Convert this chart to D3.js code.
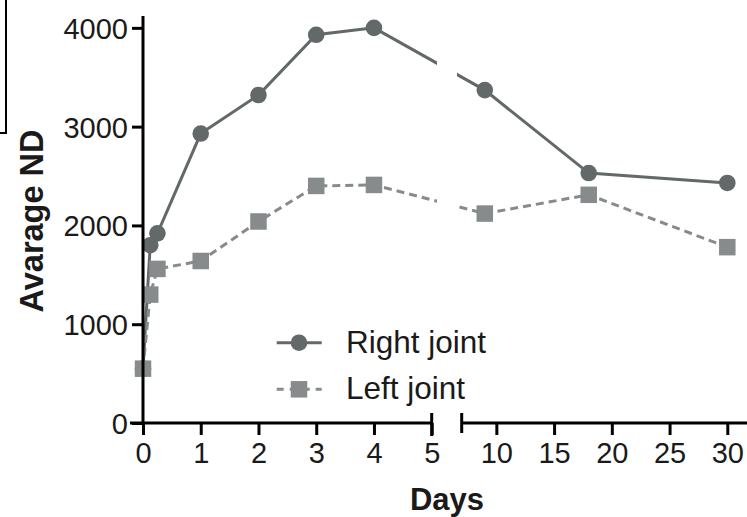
<!DOCTYPE html>
<html>
<head>
<meta charset="utf-8">
<script src="https://cdn.jsdelivr.net/npm/d3@7"></script>
<style>
  html, body { margin: 0; padding: 0; background: #fff; }
  svg { display: block; font-family: "Liberation Sans", Arial, Helvetica, sans-serif; }
</style>
</head>
<body>
<svg id="chart" width="747" height="517"></svg>
<script>
// Sampling days (early points are hours after day 0)
const days = [0, 0.125, 0.25, 1, 2, 3, 4, 9, 18, 30];
// Average ND per joint
const rightJoint = [550, 1800, 1920, 2930, 3320, 3930, 4000, 3370, 2530, 2430];
const leftJoint  = [550, 1300, 1560, 1640, 2040, 2400, 2410, 2120, 2310, 1780];
const seriesNames = ["Right joint", "Left joint"];
const yTicks = [0, 1000, 2000, 3000, 4000];
const xTicksA = [0, 1, 2, 3, 4, 5];
const xTicksB = [10, 15, 20, 25, 30];

const svg = d3.select("#chart");

// Broken x axis: two linear pieces
const xA = d3.scaleLinear().domain([0, 5]).range([143, 431.7]);
const xB = d3.scaleLinear().domain([7, 30]).range([461.7, 727.3]);
const x = d => (d <= 5 ? xA(d) : xB(d));
const y = d3.scaleLinear().domain([0, 4120]).range([423, 16]);

const darkGrey = "#636868";
const lightGrey = "#878b8b";
const textColour = "#1a1a1a";

// Corner of the neighbouring panel frame
svg.append("rect")
  .attr("x", -10).attr("y", -10).attr("width", 16).attr("height", 143)
  .attr("fill", "none").attr("stroke", "#000").attr("stroke-width", 2);

// Lines are clipped across the axis break
const defs = svg.append("defs");
const clip = defs.append("clipPath").attr("id", "gapclip");
clip.append("rect").attr("x", 0).attr("y", 0).attr("width", 437).attr("height", 517);
clip.append("rect").attr("x", 457).attr("y", 0).attr("width", 290).attr("height", 517);

const line = d3.line().x(d => x(d[0])).y(d => y(d[1]));
const rightData = days.map((d, i) => [d, rightJoint[i]]);
const leftData = days.map((d, i) => [d, leftJoint[i]]);

const plot = svg.append("g");

plot.append("path").datum(rightData)
  .attr("d", line).attr("fill", "none")
  .attr("stroke", darkGrey).attr("stroke-width", 3)
  .attr("clip-path", "url(#gapclip)");

plot.append("path").datum(leftData)
  .attr("d", line).attr("fill", "none")
  .attr("stroke", lightGrey).attr("stroke-width", 3)
  .attr("stroke-dasharray", "8,5")
  .attr("clip-path", "url(#gapclip)");

plot.selectAll("circle.rj").data(rightData).join("circle")
  .attr("class", "rj")
  .attr("cx", d => x(d[0])).attr("cy", d => y(d[1]))
  .attr("r", 8.3).attr("fill", darkGrey);

const sq = 16.5;
plot.selectAll("rect.lj").data(leftData).join("rect")
  .attr("class", "lj")
  .attr("x", d => x(d[0]) - sq / 2).attr("y", d => y(d[1]) - sq / 2)
  .attr("width", sq).attr("height", sq).attr("fill", lightGrey);

// Axes
const axisStyle = g => {
  g.selectAll(".domain").remove();
  g.selectAll(".tick line").attr("stroke", "#000").attr("stroke-width", 3);
  g.selectAll(".tick text").attr("fill", textColour)
    .style("font-size", "29px").style("font-family", "'Liberation Sans', Arial, sans-serif");
};

const yAxis = svg.append("g").attr("transform", "translate(143,0)")
  .call(d3.axisLeft(y).tickValues(yTicks).tickSize(11).tickPadding(4).tickFormat(d3.format("d")))
  .call(axisStyle);
yAxis.selectAll(".tick text").attr("dy", "0.36em");
svg.append("line").attr("x1", 143).attr("x2", 143).attr("y1", 16).attr("y2", 424.5)
  .attr("stroke", "#000").attr("stroke-width", 3);

svg.append("g").attr("transform", "translate(0,423)")
  .call(d3.axisBottom(xA).tickValues(xTicksA).tickSize(12).tickPadding(7).tickFormat(d3.format("d")))
  .call(axisStyle);
svg.append("g").attr("transform", "translate(0,423)")
  .call(d3.axisBottom(xB).tickValues(xTicksB).tickSize(12).tickPadding(7).tickFormat(d3.format("d")))
  .call(axisStyle);

// Axis baselines for both pieces, with break caps
svg.append("line").attr("x1", 130).attr("x2", xA(5)).attr("y1", 423).attr("y2", 423)
  .attr("stroke", "#000").attr("stroke-width", 3);
svg.append("line").attr("x1", xB(7)).attr("x2", 747).attr("y1", 423).attr("y2", 423)
  .attr("stroke", "#000").attr("stroke-width", 3);
svg.append("line").attr("x1", xA(5)).attr("x2", xA(5)).attr("y1", 413).attr("y2", 436)
  .attr("stroke", "#000").attr("stroke-width", 3);
svg.append("line").attr("x1", xB(7)).attr("x2", xB(7)).attr("y1", 413).attr("y2", 433)
  .attr("stroke", "#000").attr("stroke-width", 3);

// Axis titles
svg.append("text")
  .attr("transform", "translate(43,221) rotate(-90)")
  .attr("text-anchor", "middle")
  .style("font-size", "32.5px").style("font-weight", "bold").attr("fill", textColour)
  .text("Avarage ND");

svg.append("text")
  .attr("x", 447).attr("y", 510)
  .attr("text-anchor", "middle")
  .style("font-size", "31px").style("font-weight", "bold").attr("fill", textColour)
  .text("Days");

// Legend
const legend = svg.append("g");
const lx0 = 276.7, lx1 = 321.7, lcx = 299;
const rowY = [342.7, 389.3];

legend.append("line").attr("x1", lx0).attr("x2", lx1).attr("y1", rowY[0]).attr("y2", rowY[0])
  .attr("stroke", darkGrey).attr("stroke-width", 3);
legend.append("circle").attr("cx", lcx).attr("cy", rowY[0]).attr("r", 8.3).attr("fill", darkGrey);

legend.append("line").attr("x1", lx0).attr("x2", lx1).attr("y1", rowY[1]).attr("y2", rowY[1])
  .attr("stroke", lightGrey).attr("stroke-width", 3).attr("stroke-dasharray", "7,6");
legend.append("rect").attr("x", lcx - sq / 2).attr("y", rowY[1] - sq / 2)
  .attr("width", sq).attr("height", sq).attr("fill", lightGrey);

legend.selectAll("text.lg").data(seriesNames).join("text")
  .attr("class", "lg")
  .attr("x", 346).attr("y", (d, i) => rowY[i] + 10)
  .style("font-size", "31.5px").attr("fill", textColour)
  .text(d => d);
</script>
</body>
</html>
